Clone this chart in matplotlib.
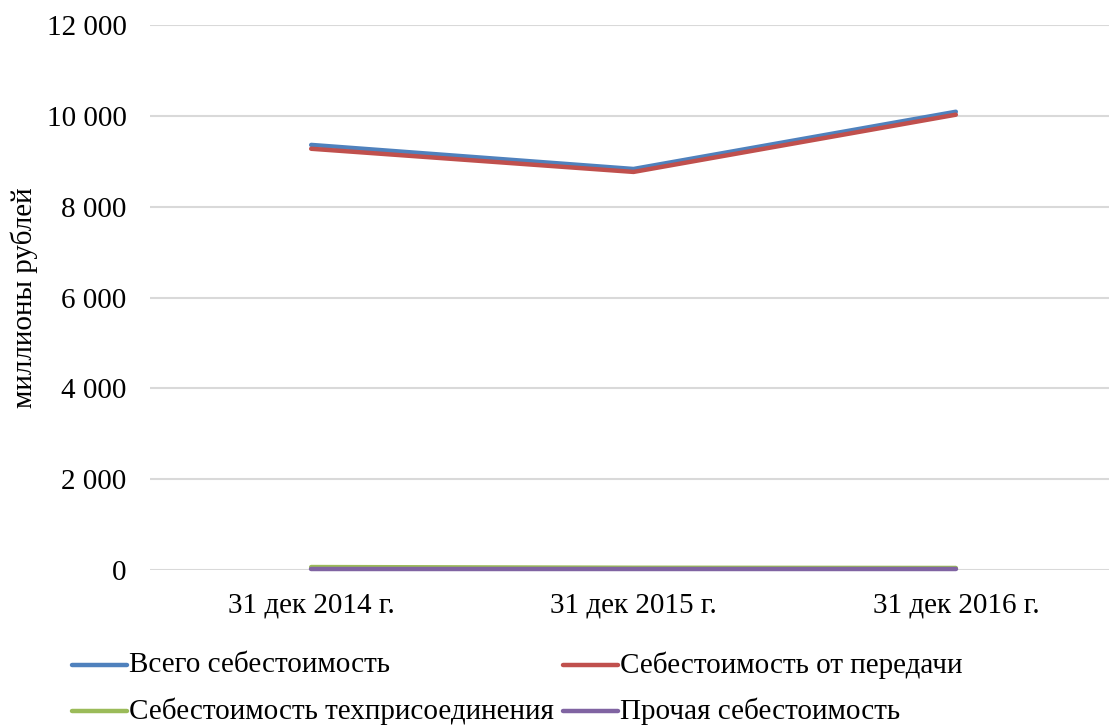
import matplotlib
matplotlib.use("Agg")
import matplotlib.pyplot as plt
from matplotlib.lines import Line2D

plt.rcParams["font.family"] = ["Liberation Serif", "DejaVu Serif"]

# Cost breakdown, millions of roubles
dates = ["31 дек 2014 г.", "31 дек 2015 г.", "31 дек 2016 г."]
total_cost = [9360, 8830, 10090]
transmission_cost = [9275, 8765, 10025]
connection_cost = [65, 50, 45]
other_cost = [30, 30, 30]

series = [
    ("Всего себестоимость", total_cost, "#4F81BD"),
    ("Себестоимость от передачи", transmission_cost, "#C0504D"),
    ("Себестоимость техприсоединения", connection_cost, "#9BBB59"),
    ("Прочая себестоимость", other_cost, "#8064A2"),
]

W, H = 1109, 726
fig = plt.figure(figsize=(W / 100, H / 100), dpi=100)
ax = fig.add_axes([150 / W, 1 - 570 / H, 967 / W, 545 / H])

x = range(len(dates))
for label, values, color in series:
    ax.plot(x, values, color=color, linewidth=3.2, solid_capstyle="round",
            solid_joinstyle="round", label=label, clip_on=False)

ax.set_xlim(-0.5, len(dates) - 0.5)
ax.set_ylim(0, 12000)
ax.set_yticks(range(0, 12001, 2000))
ax.set_yticklabels([f"{v:,}".replace(",", " ") for v in range(0, 12001, 2000)])
ax.set_xticks(list(x))
ax.set_xticklabels(dates)
ax.tick_params(axis="both", length=0, labelsize=21)
ax.tick_params(axis="y", pad=17)
ax.tick_params(axis="x", pad=16)
ax.grid(axis="y", color="#D9D9D9", linewidth=1.5)
ax.set_axisbelow(True)
for spine in ax.spines.values():
    spine.set_visible(False)

ax.set_ylabel("миллионы рублей", fontsize=21, labelpad=6)

# legend laid out by hand: two rows, two columns
legend_cols = [(72, 127), (563, 618)]
legend_rows = [665, 711]
for i, (label, values, color) in enumerate(series):
    x0, x1 = legend_cols[i % 2]
    yy = 1 - legend_rows[i // 2] / H
    fig.add_artist(Line2D([x0 / W, x1 / W], [yy, yy], color=color,
                          linewidth=3.2, solid_capstyle="round",
                          transform=fig.transFigure))
    fig.text((x1 + 2) / W, yy, label, fontsize=21, va="center", ha="left")

fig.savefig("out.png", dpi=100)
